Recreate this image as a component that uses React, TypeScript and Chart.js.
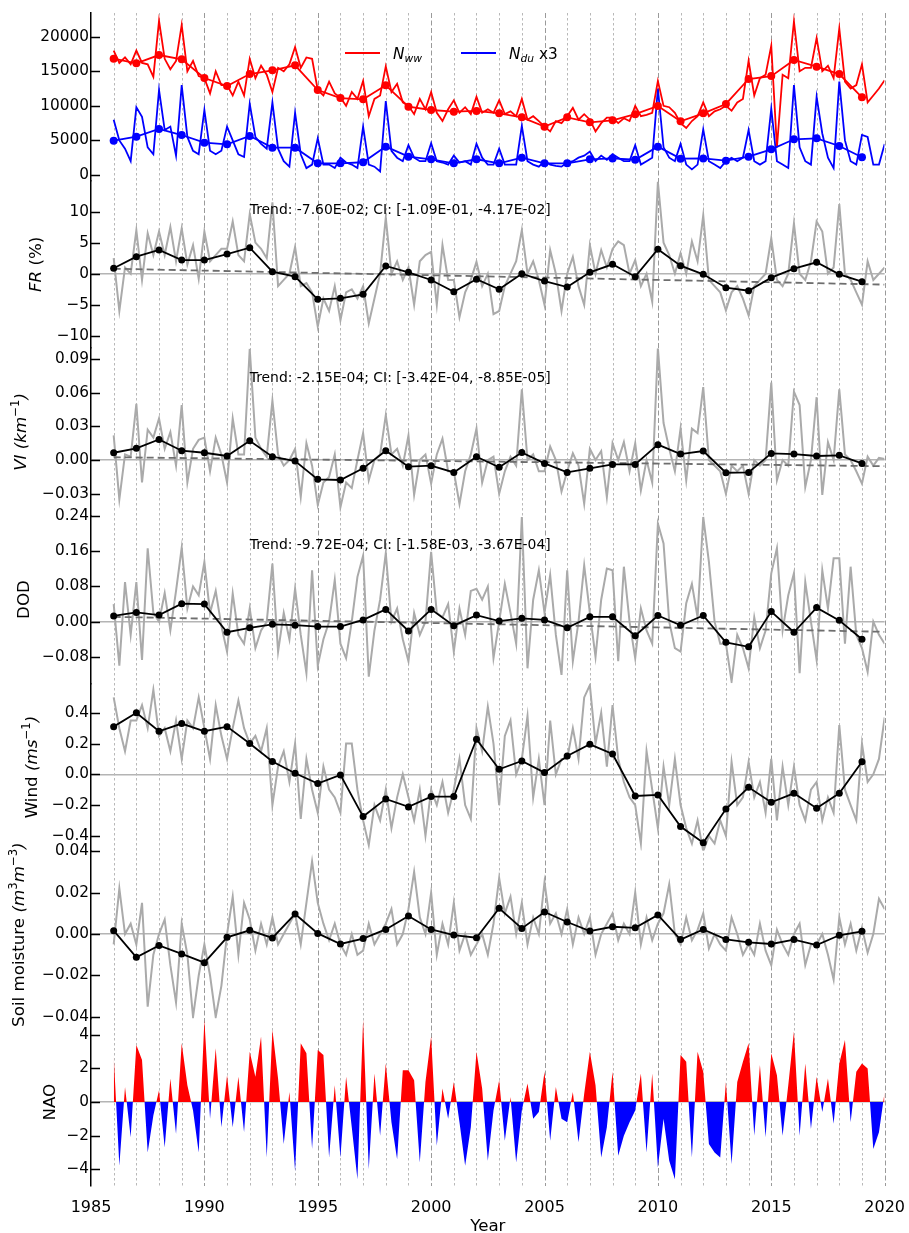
import React, { useEffect, useRef } from "react";
import { Chart, registerables } from "chart.js";

Chart.register(...registerables);

const FAMILY = "'DejaVu Sans', 'Liberation Sans', sans-serif";

// ---------- categories & tick labels ----------
const YEARS = [
  1986, 1987, 1988, 1989, 1990, 1991, 1992, 1993, 1994, 1995, 1996, 1997,
  1998, 1999, 2000, 2001, 2002, 2003, 2004, 2005, 2006, 2007, 2008, 2009,
  2010, 2011, 2012, 2013, 2014, 2015, 2016, 2017, 2018, 2019,
];
const SUB_START = 1986; // sub-annual series start (4 samples per year)
const SUB_PER_YEAR = 4;
const X_TICKS = [1985, 1990, 1995, 2000, 2005, 2010, 2015, 2020];
const N_TICKS = [0, 5000, 10000, 15000, 20000];
const FR_TICKS = [-10, -5, 0, 5, 10];
const VI_TICKS = [-0.03, 0, 0.03, 0.06, 0.09];
const DOD_TICKS = [-0.08, 0, 0.08, 0.16, 0.24];
const WIND_TICKS = [-0.4, -0.2, 0, 0.2, 0.4];
const SOIL_TICKS = [-0.04, -0.02, 0, 0.02, 0.04];
const NAO_TICKS = [-4, -2, 0, 2, 4];

// ---------- panel 1 : counts ----------
const NWW_SUB = [
  18000, 16200, 17000, 16000, 18000, 16200, 16000, 14200, 22300, 16800, 15300, 16500,
  21700, 15000, 16500, 14300, 14000, 11800, 15000, 13000, 13000, 11500, 13500, 11500,
  16800, 14000, 15800, 14500, 12000, 15500, 15000, 16000, 18500, 15500, 17000, 16800,
  12300, 11500, 13500, 11800, 11200, 10000, 12000, 11000, 13600, 8500, 11000, 11500,
  15700, 12000, 13200, 10500, 10000, 8800, 11000, 9500, 12000, 9000, 7800, 9500,
  10800, 9000, 9800, 8800, 11300, 9000, 9500, 9000, 10800, 8800, 9200, 8500,
  11000, 8000, 8500, 7800, 7000, 6300, 7800, 7500, 8500, 9700, 8000, 8800,
  8000, 6300, 7500, 8300, 8300, 7500, 8200, 7800, 10000, 8500, 8700, 9000,
  13600, 10000, 9800, 9000, 7500, 6800, 7800, 8500, 10500, 8500, 9200, 9500,
  10000, 9300, 10500, 11000, 16500, 11500, 14000, 14500, 18700, 4000, 14500, 14000,
  22200, 15000, 15500, 15500, 19800, 15000, 15800, 14000, 21200, 13500, 12500, 13000,
  16000, 10500, 11500, 12500, 13700,
];
const NDU_SUB = [
  8000, 5000, 3800, 2000, 9800, 8400, 4000, 3000, 12300, 6500, 7000, 2800,
  13000, 5500, 3500, 3000, 9400, 3500, 3000, 3500, 7000, 5000, 3000, 2600,
  10300, 5500, 4500, 3800, 10500, 3800, 2000, 1200, 9000, 3000, 1000, 1500,
  5300, 1500, 1500, 1000, 2500, 1800, 1500, 1000, 7000, 1500, 1200, 500,
  10700, 3500, 2500, 2000, 4300, 2500, 2000, 2000, 4600, 2000, 1800, 1500,
  2800, 1800, 2000, 1500, 4500, 2500, 1500, 1500, 3800, 1500, 1500, 1500,
  7100, 2000, 1500, 1200, 2000, 1500, 1300, 1200, 1800, 2000, 2500, 2800,
  3400, 2000, 2800, 2200, 3000, 2500, 2000, 2000, 4300, 1500, 2000, 2500,
  12500, 4000, 2500, 2000, 4500, 1500, 800, 1500, 6600, 2000, 1500, 1000,
  2000, 2500, 2000, 2500, 6500, 2000, 1500, 2000, 9600, 2000, 1500, 1000,
  13000, 4000, 2000, 1500, 11300, 6000, 2500, 1000, 13500, 5000, 2000, 1500,
  5800, 5500, 1500, 1500, 4500,
];
const NWW_ANNUAL = [
  16820, 16150, 17350, 16730, 14030, 12870, 14600, 15140, 15860, 12290, 11130, 10950,
  12970, 9880, 9400, 9160, 9260, 8920, 8340, 6990, 8340, 7620, 7900, 8800,
  9980, 7760, 8920, 10270, 13880, 14300, 16630, 15660, 14600, 11240,
];
const NDU_ANNUAL = [
  4960, 5540, 6650, 5780, 4670, 4440, 5640, 3950, 3950, 1690, 1690, 1840,
  4100, 2650, 2270, 1690, 2270, 1690, 2500, 1690, 1690, 2270, 2400, 2200,
  4100, 2360, 2400, 2070, 2650, 3710, 5160, 5300, 4190, 2560,
];

// ---------- panel 2 : FR ----------
const FR_SUB = [
  2.5, -6, 1, 0, 7, -1, 6.5, 3, 6.8, 3, 7.5, 2,
  7.3, 1.5, 4.6, -0.8, 6.8, 2, 3, 4, 4, 8.4, 3, 2,
  9.6, 5, 4, 2.5, 11.5, -2, -1, 0, 4.3, -2, -1.5, -3,
  -8.5, -4, -6, -2, -7.5, -3, -2.5, -4, -2, -8, -4, 0,
  9, 0, 2, -1, 1, -5, 2, 3, 3.5, -5, 4.6, -1,
  -1, -7, -3, -1, 1.9, -2, 0, -6.5, -6, -2, 0, 2,
  7, 0, 2, -1, -5, 3.8, 0, -6, 0, 2.7, -2, -5,
  4.6, 0, 3.8, 1, 4, 5.2, 4.6, 0, 2.2, -2, 0, -4.5,
  14.8, 5, 3, 0, 3.3, 0, 5.2, 2, 9.4, -1, -2, -3,
  -5.9, -3, -2, -4, -6.7, -2, -1, 0, 5.7, -1, -2, 0,
  8.1, 0, -1, 2, 8.4, 6.8, 0, 1, 11.2, 0, -1, -3,
  -5, 2, -1, 0, 1,
];
const FR_ANNUAL = [
  0.87, 2.74, 3.82, 2.2, 2.2, 3.17, 4.19, 0.33, -0.48, -4.13, -3.97, -3.32,
  1.24, 0.22, -1.01, -2.9, -0.9, -2.5, 0.0, -1.18, -2.14, 0.22, 1.51, -0.48,
  3.93, 1.29, -0.1, -2.25, -2.74, -0.64, 0.81, 1.84, -0.1, -1.29,
];
const TREND_X = [1986, 2020];
const FR_TREND = [0.8, -1.75];
const FR_TREND_TEXT = "Trend: -7.60E-02; CI: [-1.09E-01, -4.17E-02]";

// ---------- panel 3 : VI ----------
const VI_SUB = [
  0.022, -0.035, 0.005, 0.003, 0.05, -0.02, 0.027, 0.02, 0.037, 0.01, 0.025, -0.005,
  0.049, -0.02, 0.01, 0.018, 0.02, -0.01, 0.02, 0.005, -0.02, 0.037, 0.005, 0.005,
  0.099, 0.02, 0.01, 0.003, 0.053, 0.005, -0.005, 0.0, 0.01, -0.033, 0.015, -0.005,
  -0.04, -0.02, -0.015, 0.005, -0.042, -0.02, -0.025, 0.0, 0.024, -0.018, 0.0, 0.005,
  0.04, 0.005, 0.01, -0.005, 0.022, -0.031, 0.0, 0.005, -0.021, 0.005, 0.019, -0.01,
  -0.01, -0.039, -0.01, 0.005, 0.028, -0.02, 0.0, 0.003, -0.03, -0.01, 0.003, -0.005,
  0.063, 0.0, 0.005, -0.01, -0.01, 0.012, 0.0, -0.028, -0.01, 0.006, -0.005, -0.039,
  0.01, 0.0, 0.008, -0.033, 0.015, 0.0, 0.016, -0.01, 0.015, -0.027, 0.0, -0.02,
  0.1, 0.033, 0.01, -0.01, 0.028, -0.018, 0.028, 0.024, 0.065, 0.0, -0.005, -0.01,
  -0.03, -0.005, -0.01, -0.005, -0.03, 0.0, -0.005, 0.0, 0.069, -0.018, 0.0, -0.005,
  0.061, 0.049, -0.024, 0.0, 0.056, -0.031, 0.016, 0.0, 0.063, 0.005, 0.0, -0.01,
  -0.021, 0.003, -0.005, 0.002, 0.001,
];
const VI_ANNUAL = [
  0.0065, 0.0104, 0.0184, 0.0083, 0.0065, 0.0036, 0.0172, 0.003, -0.0009, -0.0172, -0.0178, -0.0074,
  0.0083, -0.0059, -0.005, -0.011, 0.003, -0.0065, 0.0068, -0.003, -0.011, -0.0074, -0.0039, -0.0039,
  0.0137, 0.0053, 0.008, -0.0113, -0.011, 0.0059, 0.0053, 0.0036, 0.0042, -0.003,
];
const VI_TREND = [0.0025, -0.0055];
const VI_TREND_TEXT = "Trend: -2.15E-04; CI: [-3.42E-04, -8.85E-05]";

// ---------- panel 4 : DOD ----------
const DOD_SUB = [
  0.04, -0.1, 0.09, -0.03, 0.09, -0.087, 0.167, 0.02, 0.0, 0.065, -0.02, 0.07,
  0.168, 0.03, 0.08, 0.06, 0.136, 0.02, 0.07, -0.01, -0.068, 0.064, -0.03, -0.05,
  0.03, -0.06, -0.02, 0.0, 0.132, -0.068, 0.02, -0.04, 0.075, -0.03, -0.117, 0.117,
  -0.1, -0.04, 0.0, 0.095, -0.05, -0.083, 0.0, 0.102, 0.15, -0.125, -0.02, 0.05,
  0.156, 0.0, 0.03, -0.04, -0.09, 0.02, -0.03, 0.0, 0.159, 0.02, 0.01, 0.04,
  -0.068, 0.03, -0.03, 0.07, 0.075, 0.05, 0.08, -0.083, 0.0, 0.086, 0.02, -0.05,
  0.238, -0.106, 0.05, 0.117, 0.02, 0.106, -0.03, -0.121, 0.117, -0.09, 0.0, 0.128,
  0.02, -0.08, 0.05, 0.121, 0.117, -0.09, 0.125, 0.0, -0.083, 0.03, -0.02, -0.05,
  0.223, 0.178, 0.0, -0.06, -0.068, 0.042, 0.086, 0.01, 0.238, 0.136, 0.0, -0.05,
  -0.05, -0.136, -0.03, -0.06, -0.106, 0.01, -0.06, -0.02, 0.11, 0.167, -0.02, 0.06,
  0.11, -0.117, 0.09, 0.0, -0.087, 0.117, 0.03, 0.144, 0.144, -0.05, 0.125, -0.03,
  -0.06, -0.114, 0.0, -0.03, -0.05,
];
const DOD_ANNUAL = [
  0.013, 0.021, 0.015, 0.041, 0.04, -0.024, -0.014, -0.006, -0.008, -0.011, -0.011, 0.004,
  0.028, -0.021, 0.028, -0.009, 0.015, 0.0015, 0.0076, 0.004, -0.014, 0.011, 0.011, -0.032,
  0.014, -0.008, 0.014, -0.047, -0.057, 0.023, -0.024, 0.032, 0.003, -0.04,
];
const DOD_TREND = [0.011, -0.023];
const DOD_TREND_TEXT = "Trend: -9.72E-04; CI: [-1.58E-03, -3.67E-04]";

// ---------- panel 5 : wind ----------
const WIND_SUB = [
  0.5, 0.3, 0.15, 0.35, 0.35, 0.45, 0.3, 0.55, 0.25, 0.3, 0.15, 0.35,
  0.1, 0.35, 0.3, 0.5, 0.3, 0.1, 0.45, 0.25, 0.1, 0.3, 0.48, 0.3,
  0.2, 0.25, 0.15, 0.3, -0.2, 0.05, 0.15, -0.05, 0.2, -0.29, 0.1, -0.1,
  -0.25, 0.05, -0.1, -0.15, -0.25, 0.2, 0.2, -0.1, -0.3, -0.46, -0.2, -0.3,
  -0.1, -0.35, -0.15, 0.0, -0.15, -0.3, -0.1, -0.4, -0.1, -0.2, -0.05, -0.25,
  -0.1, 0.1, -0.2, -0.29, 0.3, 0.15, 0.44, 0.2, -0.2, 0.25, 0.35, 0.0,
  0.1, 0.38, -0.15, 0.1, -0.2, 0.35, 0.0, 0.1, 0.1, 0.3, 0.1, 0.5,
  0.58, 0.2, 0.4, 0.05, 0.45, 0.1, -0.05, -0.15, -0.2, -0.45, 0.15, -0.1,
  -0.35, 0.05, -0.2, 0.1, -0.2, -0.35, -0.45, -0.3, -0.5, -0.4, -0.45, -0.3,
  -0.4, 0.08, -0.2, -0.15, 0.08, -0.15, -0.05, -0.25, 0.1, -0.3, 0.05, -0.2,
  0.05, -0.2, -0.3, -0.1, -0.05, -0.3, -0.15, -0.25, 0.32, -0.1, -0.2, -0.3,
  0.2, -0.05, 0.0, 0.1, 0.37,
];
const WIND_ANNUAL = [
  0.31, 0.4, 0.28, 0.33, 0.28, 0.31, 0.2, 0.083, 0.007, -0.06, -0.004, -0.275,
  -0.16, -0.212, -0.145, -0.145, 0.228, 0.033, 0.087, 0.011, 0.119, 0.195, 0.132, -0.141,
  -0.134, -0.34, -0.445, -0.226, -0.085, -0.182, -0.124, -0.221, -0.124, 0.082,
];

// ---------- panel 6 : soil moisture ----------
const SOIL_SUB = [
  -0.005, 0.022, 0.0, 0.005, -0.005, 0.015, -0.035, -0.01, 0.0, 0.007, -0.015, -0.033,
  0.005, -0.01, -0.04, -0.02, -0.005, -0.02, -0.04, -0.025, 0.0, 0.018, -0.01, 0.015,
  0.007, -0.008, 0.005, -0.005, 0.008, -0.005, 0.0, 0.005, 0.01, -0.005, 0.015, 0.035,
  0.015, 0.005, -0.003, 0.005, -0.005, -0.01, 0.0, -0.01, -0.008, 0.005, -0.005, 0.0,
  0.005, 0.012, -0.005, 0.0, 0.012, 0.03, 0.008, 0.0, 0.02, -0.01, 0.005, -0.005,
  0.015, -0.008, 0.0, -0.01, -0.005, 0.0, -0.01, 0.005, 0.027, 0.01, 0.018, 0.0,
  0.015, -0.005, 0.008, 0.0, 0.025, 0.005, 0.01, 0.0, 0.012, -0.005, 0.008, 0.0,
  0.008, -0.01, 0.0, 0.005, 0.01, -0.003, 0.005, 0.0, 0.02, -0.005, 0.008, -0.003,
  0.005, 0.01, 0.024, 0.0, -0.005, 0.008, -0.003, 0.002, 0.01, -0.007, 0.0, -0.005,
  -0.008, 0.008, 0.0, -0.01, -0.005, -0.01, 0.005, -0.008, -0.015, 0.002, -0.005, -0.01,
  0.0, 0.005, -0.015, -0.005, -0.005, 0.0, -0.01, -0.022, 0.008, -0.005, 0.005, -0.008,
  0.003, -0.009, 0.0, 0.017, 0.012,
];
const SOIL_ANNUAL = [
  0.0016, -0.0112, -0.0055, -0.0096, -0.0138, -0.0016, 0.0018, -0.0019, 0.0096, 0.0003, -0.0048, -0.0022,
  0.0022, 0.0087, 0.0022, -0.0005, -0.0018, 0.0124, 0.0027, 0.0106, 0.0058, 0.0014, 0.0035, 0.003,
  0.0092, -0.0027, 0.0022, -0.0026, -0.004, -0.0048, -0.0027, -0.0053, -0.0006, 0.0013,
];

// ---------- panel 7 : NAO ----------
const NAO_SUB = [
  2.8, -3.8, 0.9, -2.1, 3.4, 2.5, -3, -0.8, 0.7, -2.7, 1.4, -1.9,
  3.5, 1.0, -0.5, -3, 4.9, -1.0, 3.2, -1.5, 1.6, -1.5, 1.5, -1.8,
  3.0, 1.5, 3.9, -3.3, 4.3, 1.4, -2.5, 0.6, -4.1, 3.5, 2.9, -2.8,
  3.1, 2.8, -3.3, 1.0, -3.3, 1.5, -1.5, -4.6, 4.9, -4.0, 1.7, -2,
  2.3, -1.2, -3.4, 1.9, 1.9, 1.3, -3.6, 1.2, 3.9, -2.6, 0.8, -1.0,
  1.2, -1.2, -3.8, -1.5, 3.0, 0.8, -3.5, -0.5, 1.3, -2.3, 0.3, -3.6,
  -0.5, 1.1, -1.0, -0.6, 1.8, -2.3, 0.9, -1.0, -1.2, 0.6, -2.4, 0.5,
  3.0, 1.0, -3.3, -1.5, 1.8, -3.2, -2.0, -1.2, -0.5, 1.7, -3.0, 1.7,
  -3.9, -1.0, -3.5, -4.6, 2.8, 2.4, -3.3, 3.0, 1.8, -2.5, -3.0, -3.3,
  1.2, -3.7, 1.2, 2.4, 3.5, -2.0, 2.2, -2.1, 2.9, 1.6, -2.0, 1.0,
  4.2, -2.0, 2.3, -1.6, 1.5, -0.6, 1.4, -1.3, 2.3, 3.7, -1.2, 1.8,
  2.3, 2.0, -2.8, -1.8, 0.6,
];

// ---------- helpers ----------
const subX = (arr: number[]) => arr.map((_, i) => SUB_START + i / SUB_PER_YEAR);
const pts = (xs: number[], ys: number[]) => ys.map((y, i) => ({ x: xs[i], y }));
const fmt = (v: number, d: number) => {
  const s = Math.abs(v).toFixed(d);
  return (v < -1e-12 ? "\u2212" : "") + s;
};

const RED = "#ff0000";
const BLUE = "#0000ff";
const GRAY = "#aaaaaa";
const TREND_GRAY = "#6e6e6e";
const Y_IDS = ["y1", "y2", "y3", "y4", "y5", "y6", "y7"];
const AXIS_W = 60;

type Seg = { t: string; it?: boolean; sup?: boolean; sub?: boolean };

function drawRich(
  ctx: CanvasRenderingContext2D,
  segs: Seg[],
  x: number,
  y: number,
  size: number,
  rotate: boolean,
  center: boolean
) {
  ctx.save();
  ctx.translate(x, y);
  if (rotate) ctx.rotate(-Math.PI / 2);
  const fontOf = (s: Seg) =>
    `${s.it ? "italic " : ""}${s.sup || s.sub ? size * 0.7 : size}px ${FAMILY}`;
  let total = 0;
  for (const s of segs) {
    ctx.font = fontOf(s);
    total += ctx.measureText(s.t).width;
  }
  let cx = center ? -total / 2 : 0;
  ctx.textAlign = "left";
  ctx.textBaseline = "alphabetic";
  ctx.fillStyle = "#000";
  for (const s of segs) {
    ctx.font = fontOf(s);
    const dy = s.sup ? -size * 0.4 : s.sub ? size * 0.22 : 0;
    ctx.fillText(s.t, cx, dy);
    cx += ctx.measureText(s.t).width;
  }
  ctx.restore();
}

const Y_TITLES: { id: string; segs: Seg[]; dx: number }[] = [
  { id: "y2", segs: [{ t: "FR", it: true }, { t: " (%)" }], dx: -50 },
  {
    id: "y3",
    segs: [{ t: "VI", it: true }, { t: " (", it: true }, { t: "km", it: true }, { t: "\u22121", sup: true }, { t: ")", it: true }],
    dx: -65,
  },
  { id: "y4", segs: [{ t: "DOD" }], dx: -62 },
  {
    id: "y5",
    segs: [{ t: "Wind " }, { t: "(", it: true }, { t: "ms", it: true }, { t: "\u22121", sup: true }, { t: ")", it: true }],
    dx: -54,
  },
  {
    id: "y6",
    segs: [
      { t: "Soil moisture " },
      { t: "(", it: true },
      { t: "m", it: true },
      { t: "3", sup: true },
      { t: "m", it: true },
      { t: "\u22123", sup: true },
      { t: ")", it: true },
    ],
    dx: -67,
  },
  { id: "y7", segs: [{ t: "NAO" }], dx: -36 },
];

const TREND_TEXTS: { id: string; text: string }[] = [
  { id: "y2", text: FR_TREND_TEXT },
  { id: "y3", text: VI_TREND_TEXT },
  { id: "y4", text: DOD_TREND_TEXT },
];

const panelPlugin = {
  id: "panelPlugin",
  beforeDatasetsDraw(chart: any) {
    const { ctx, chartArea: ca } = chart;
    const xs = chart.scales.x;
    ctx.save();
    ctx.lineWidth = 1;
    for (let v = Math.round(xs.min) + 1; v <= xs.max; v++) {
      const major = X_TICKS.includes(v);
      const px = Math.round(xs.getPixelForValue(v)) + 0.5;
      ctx.strokeStyle = major ? "#9a9a9a" : "#b8b8b8";
      ctx.setLineDash(major ? [5, 2.5] : [2.5, 2.5]);
      ctx.beginPath();
      ctx.moveTo(px, ca.top);
      ctx.lineTo(px, ca.bottom);
      ctx.stroke();
    }
    ctx.restore();
  },
  beforeDatasetDraw(chart: any, args: any) {
    const { ctx, chartArea: ca } = chart;
    const ys = args.meta.yScale;
    ctx.save();
    ctx.beginPath();
    ctx.rect(ca.left, ys.top, ca.right - ca.left, ys.bottom - ys.top);
    ctx.clip();
  },
  afterDatasetDraw(chart: any) {
    chart.ctx.restore();
  },
  afterDatasetsDraw(chart: any) {
    const { ctx, chartArea: ca } = chart;
    ctx.save();
    ctx.strokeStyle = "#000";
    ctx.lineWidth = 1.5;
    ctx.setLineDash([]);
    ctx.beginPath();
    for (const id of Y_IDS) {
      const s = chart.scales[id];
      for (const t of s.ticks) {
        const py = Math.round(s.getPixelForValue(t.value)) + 0.5;
        ctx.moveTo(ca.left, py);
        ctx.lineTo(ca.left + 9, py);
      }
    }
    ctx.stroke();
    ctx.restore();
  },
  afterDraw(chart: any) {
    const { ctx, chartArea: ca } = chart;
    const width = ca.right - ca.left;
    // trend annotations
    ctx.save();
    ctx.fillStyle = "#000";
    ctx.font = `13.9px ${FAMILY}`;
    ctx.textAlign = "left";
    ctx.textBaseline = "alphabetic";
    for (const tt of TREND_TEXTS) {
      const s = chart.scales[tt.id];
      ctx.fillText(tt.text, ca.left + 0.2 * width, s.top + 0.2 * (s.bottom - s.top));
    }
    ctx.restore();

    // y titles
    for (const yt of Y_TITLES) {
      const s = chart.scales[yt.id];
      drawRich(ctx, yt.segs, ca.left + yt.dx, (s.top + s.bottom) / 2, 16.7, true, true);
    }

    // x title
    drawRich(ctx, [{ t: "Year" }], (ca.left + ca.right) / 2, ca.bottom + 45, 16.7, false, true);

    // legend (top panel)
    const y1 = chart.scales.y1;
    const ly = y1.top + 40;
    const items = [
      { color: RED, x: ca.left + 254, segs: [{ t: "N", it: true }, { t: "ww", it: true, sub: true }] as Seg[] },
      {
        color: BLUE,
        x: ca.left + 370,
        segs: [{ t: "N", it: true }, { t: "du", it: true, sub: true }, { t: " x3" }] as Seg[],
      },
    ];
    for (const it of items) {
      ctx.save();
      ctx.strokeStyle = it.color;
      ctx.lineWidth = 2;
      ctx.beginPath();
      ctx.moveTo(it.x, ly);
      ctx.lineTo(it.x + 35, ly);
      ctx.stroke();
      ctx.restore();
      drawRich(ctx, it.segs, it.x + 48, ly + 5.5, 15.3, false, false);
    }
  },
};

function yAxis(weight: number, min: number, max: number, tickVals: number[], dec: number, zero: boolean) {
  return {
    type: "linear",
    position: "left",
    stack: "panels",
    stackWeight: 1,
    weight,
    min,
    max,
    bounds: "data",
    afterBuildTicks: (s: any) => {
      s.ticks = tickVals.map((v) => ({ value: v }));
    },
    border: { display: true, color: "#000", width: 1.5 },
    grid: {
      display: true,
      drawTicks: false,
      lineWidth: 1.5,
      color: (c: any) => (zero && c.tick && c.tick.value === 0 ? "#b4b4b4" : "rgba(0,0,0,0)"),
    },
    ticks: {
      autoSkip: false,
      padding: 2,
      color: "#000",
      font: { family: FAMILY, size: 15.3 },
      callback: (v: any) => fmt(Number(v), dec),
    },
    afterFit: (s: any) => {
      s.width = AXIS_W;
    },
  };
}

function grayLine(arr: number[], yAxisID: string) {
  return {
    data: pts(subX(arr), arr),
    yAxisID,
    xAxisID: "x",
    borderColor: GRAY,
    borderWidth: 2,
    pointRadius: 0,
    fill: false,
    tension: 0,
    order: 3,
  };
}
function annualLine(arr: number[], yAxisID: string, color = "#000", radius = 3.5) {
  return {
    data: pts(YEARS, arr),
    yAxisID,
    xAxisID: "x",
    borderColor: color,
    backgroundColor: color,
    pointBackgroundColor: color,
    pointBorderColor: color,
    borderWidth: 1.8,
    pointRadius: radius,
    pointBorderWidth: 0,
    fill: false,
    tension: 0,
    order: 1,
  };
}
function trendLine(arr: number[], yAxisID: string) {
  return {
    data: pts(TREND_X, arr),
    yAxisID,
    xAxisID: "x",
    borderColor: TREND_GRAY,
    borderWidth: 1.8,
    borderDash: [7, 4],
    pointRadius: 0,
    fill: false,
    order: 2,
  };
}

export default function App() {
  const ref = useRef<HTMLCanvasElement | null>(null);

  useEffect(() => {
    const canvas = ref.current;
    if (!canvas) return;
    Chart.defaults.font.family = FAMILY;

    const datasets: any[] = [
      // panel 1
      annualLine(NWW_ANNUAL, "y1", RED, 4),
      annualLine(NDU_ANNUAL, "y1", BLUE, 4),
      { ...grayLine(NWW_SUB, "y1"), borderColor: RED, borderWidth: 1.8, order: 2 },
      { ...grayLine(NDU_SUB, "y1"), borderColor: BLUE, borderWidth: 1.8, order: 2 },
      // panel 2
      annualLine(FR_ANNUAL, "y2"),
      trendLine(FR_TREND, "y2"),
      grayLine(FR_SUB, "y2"),
      // panel 3
      annualLine(VI_ANNUAL, "y3"),
      trendLine(VI_TREND, "y3"),
      grayLine(VI_SUB, "y3"),
      // panel 4
      annualLine(DOD_ANNUAL, "y4"),
      trendLine(DOD_TREND, "y4"),
      grayLine(DOD_SUB, "y4"),
      // panel 5
      annualLine(WIND_ANNUAL, "y5"),
      grayLine(WIND_SUB, "y5"),
      // panel 6
      annualLine(SOIL_ANNUAL, "y6"),
      grayLine(SOIL_SUB, "y6"),
      // panel 7
      {
        data: pts(subX(NAO_SUB), NAO_SUB),
        yAxisID: "y7",
        xAxisID: "x",
        borderColor: "rgba(0,0,0,0)",
        borderWidth: 0,
        pointRadius: 0,
        tension: 0,
        fill: { target: "origin", above: RED, below: BLUE },
        order: 3,
      },
    ];

    const chart = new Chart(canvas, {
      type: "line",
      data: { datasets },
      options: {
        responsive: false,
        animation: false,
        devicePixelRatio: 1,
        events: [],
        layout: { padding: { top: 13, left: 91 - AXIS_W, right: 23, bottom: 0 } },
        plugins: {
          legend: { display: false },
          tooltip: { enabled: false },
          title: { display: false },
        },
        scales: {
          x: {
            type: "linear",
            position: "bottom",
            min: 1985,
            max: 2020,
            bounds: "data",
            afterBuildTicks: (s: any) => {
              s.ticks = X_TICKS.map((v) => ({ value: v }));
            },
            grid: { display: false },
            border: { display: false },
            ticks: {
              autoSkip: false,
              maxRotation: 0,
              padding: 4,
              color: "#000",
              font: { family: FAMILY, size: 16 },
              callback: (v: any) => String(v),
            },
            afterFit: (s: any) => {
              s.height = 47;
            },
          },
          y1: yAxis(7, -810, 23430, N_TICKS, 0, false),
          y2: yAxis(6, -11.98, 14.99, FR_TICKS, 0, true),
          y3: yAxis(5, -0.0496, 0.0997, VI_TICKS, 2, true),
          y4: yAxis(4, -0.14, 0.2409, DOD_TICKS, 2, true),
          y5: yAxis(3, -0.498, 0.592, WIND_TICKS, 1, true),
          y6: yAxis(2, -0.0407, 0.0401, SOIL_TICKS, 2, true),
          y7: yAxis(1, -5.0, 4.98, NAO_TICKS, 0, true),
        } as any,
      },
      plugins: [panelPlugin as any],
    } as any);

    return () => chart.destroy();
  }, []);

  return (
    <div style={{ position: "absolute", left: 0, top: 0, width: 909, height: 1233, background: "#fff" }}>
      <canvas ref={ref} width={909} height={1233} style={{ display: "block", width: 909, height: 1233 }} />
    </div>
  );
}
